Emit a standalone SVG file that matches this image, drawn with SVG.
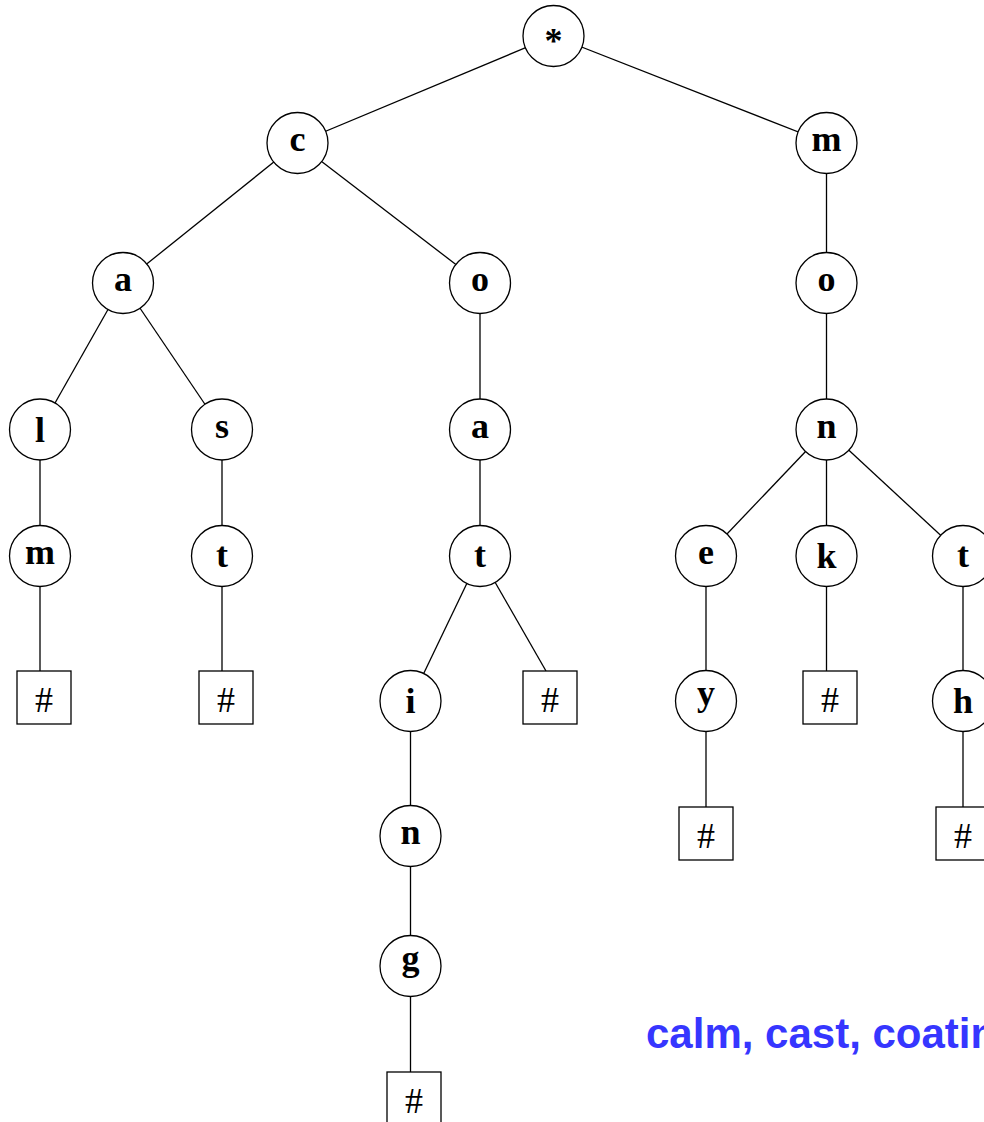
<svg xmlns="http://www.w3.org/2000/svg" width="984" height="1122" viewBox="0 0 984 1122">
<style>
.e line{stroke:#000;stroke-width:1.3}
circle{fill:#fff;stroke:#000;stroke-width:1.3}
rect{fill:#fff;stroke:#000;stroke-width:1.3}
text.l{font-family:"Liberation Serif","Times New Roman",serif;font-weight:bold;font-size:36px;text-anchor:middle;fill:#000}
text.h{font-family:"Liberation Serif","Times New Roman",serif;font-weight:normal;font-size:36px;text-anchor:middle;fill:#000}
text.cap{font-family:"Liberation Sans",Arial,sans-serif;font-weight:bold;font-size:42px;fill:#3636ff}
</style>
<rect x="0" y="0" width="984" height="1122" style="fill:#fff;stroke:none"/>
<g id="connectors" class="e">
<line x1="553.5" y1="36" x2="297.5" y2="143"/>
<line x1="553.5" y1="36" x2="826.5" y2="143"/>
<line x1="297.5" y1="143" x2="123" y2="283"/>
<line x1="297.5" y1="143" x2="480" y2="283"/>
<line x1="826.5" y1="143" x2="826.5" y2="283"/>
<line x1="123" y1="283" x2="40" y2="429.5"/>
<line x1="123" y1="283" x2="222" y2="429.5"/>
<line x1="480" y1="283" x2="480" y2="429.5"/>
<line x1="826.5" y1="283" x2="826.5" y2="429.5"/>
<line x1="40" y1="429.5" x2="40" y2="556"/>
<line x1="222" y1="429.5" x2="222" y2="556"/>
<line x1="480" y1="429.5" x2="480" y2="556"/>
<line x1="826.5" y1="429.5" x2="706" y2="556"/>
<line x1="826.5" y1="429.5" x2="826.5" y2="556"/>
<line x1="826.5" y1="429.5" x2="963" y2="556"/>
<line x1="40" y1="556" x2="40" y2="671"/>
<line x1="222" y1="556" x2="222" y2="671"/>
<line x1="480" y1="556" x2="410.5" y2="701"/>
<line x1="480" y1="556" x2="546" y2="671"/>
<line x1="706" y1="556" x2="706" y2="701"/>
<line x1="826.5" y1="556" x2="826.5" y2="671"/>
<line x1="963" y1="556" x2="963" y2="701"/>
<line x1="410.5" y1="701" x2="410.5" y2="836"/>
<line x1="706" y1="701" x2="706" y2="807"/>
<line x1="963" y1="701" x2="963" y2="807"/>
<line x1="410.5" y1="836" x2="410.5" y2="966"/>
<line x1="410.5" y1="966" x2="410.5" y2="1072"/>
</g>
<g id="root"><circle cx="553.5" cy="36" r="30.5"/><text class="l" x="553.5" y="53">*</text></g>
<g id="n-c"><circle cx="297.5" cy="143" r="30.5"/><text class="l" x="297.5" y="151">c</text></g>
<g id="n-m"><circle cx="826.5" cy="143" r="30.5"/><text class="l" x="826.5" y="151">m</text></g>
<g id="n-ca"><circle cx="123" cy="283" r="30.5"/><text class="l" x="123" y="291">a</text></g>
<g id="n-co"><circle cx="480" cy="283" r="30.5"/><text class="l" x="480" y="291">o</text></g>
<g id="n-mo"><circle cx="826.5" cy="283" r="30.5"/><text class="l" x="826.5" y="291">o</text></g>
<g id="n-cal"><circle cx="40" cy="429.5" r="30.5"/><text class="l" x="40" y="442">l</text></g>
<g id="n-cas"><circle cx="222" cy="429.5" r="30.5"/><text class="l" x="222" y="437.5">s</text></g>
<g id="n-coa"><circle cx="480" cy="429.5" r="30.5"/><text class="l" x="480" y="437.5">a</text></g>
<g id="n-mon"><circle cx="826.5" cy="429.5" r="30.5"/><text class="l" x="826.5" y="437.5">n</text></g>
<g id="n-calm"><circle cx="40" cy="556" r="30.5"/><text class="l" x="40" y="564">m</text></g>
<g id="n-cast"><circle cx="222" cy="556" r="30.5"/><text class="l" x="222" y="567">t</text></g>
<g id="n-coat"><circle cx="480" cy="556" r="30.5"/><text class="l" x="480" y="567">t</text></g>
<g id="n-mone"><circle cx="706" cy="556" r="30.5"/><text class="l" x="706" y="564">e</text></g>
<g id="n-monk"><circle cx="826.5" cy="556" r="30.5"/><text class="l" x="826.5" y="568">k</text></g>
<g id="n-mont"><circle cx="963" cy="556" r="30.5"/><text class="l" x="963" y="567">t</text></g>
<g id="end-calm"><rect x="17" y="671" width="54" height="53"/><text class="h" x="44" y="712">#</text></g>
<g id="end-cast"><rect x="199" y="671" width="54" height="53"/><text class="h" x="226" y="712">#</text></g>
<g id="n-coati"><circle cx="410.5" cy="701" r="30.5"/><text class="l" x="410.5" y="713">i</text></g>
<g id="end-coat"><rect x="523" y="671" width="54" height="53"/><text class="h" x="550" y="712">#</text></g>
<g id="n-money"><circle cx="706" cy="701" r="30.5"/><text class="l" x="706" y="705">y</text></g>
<g id="end-monk"><rect x="803" y="671" width="54" height="53"/><text class="h" x="830" y="712">#</text></g>
<g id="n-month"><circle cx="963" cy="701" r="30.5"/><text class="l" x="963" y="713">h</text></g>
<g id="n-coatin"><circle cx="410.5" cy="836" r="30.5"/><text class="l" x="410.5" y="844">n</text></g>
<g id="end-money"><rect x="679" y="807" width="54" height="53"/><text class="h" x="706" y="848">#</text></g>
<g id="end-month"><rect x="936" y="807" width="54" height="53"/><text class="h" x="963" y="848">#</text></g>
<g id="n-coating"><circle cx="410.5" cy="966" r="30.5"/><text class="l" x="410.5" y="970">g</text></g>
<g id="end-coating"><rect x="387" y="1072" width="54" height="53"/><text class="h" x="414" y="1113">#</text></g>
<text class="cap" x="646" y="1048">calm, cast, coating</text>
</svg>
